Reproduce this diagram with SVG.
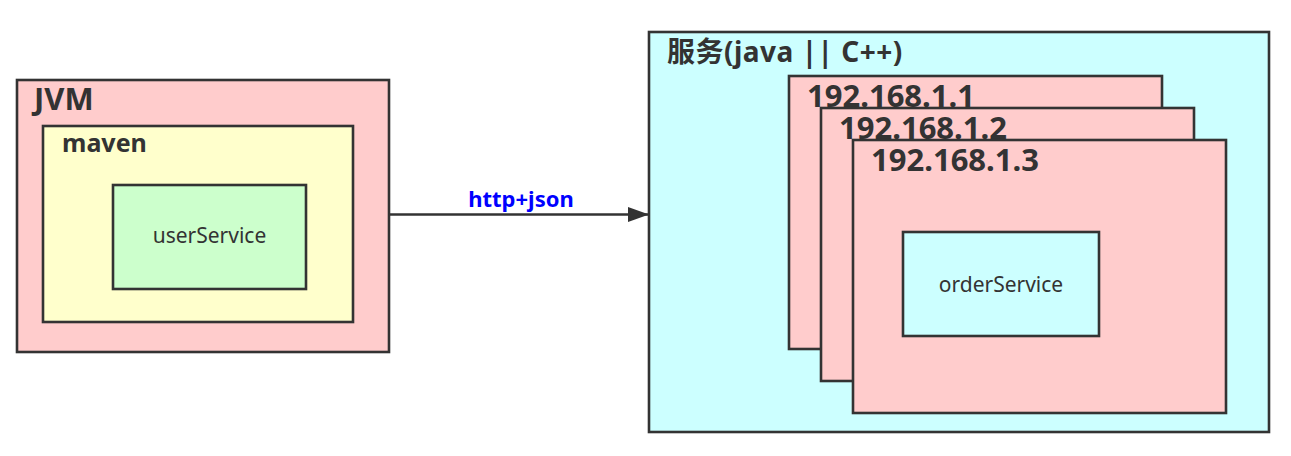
<svg xmlns="http://www.w3.org/2000/svg" width="1291" height="456" viewBox="0 0 1291 456">
<style>
.box{stroke:#333;stroke-width:2.6}
.pink{fill:#FFCCCC}.yellow{fill:#FFFFCC}.green{fill:#CCFFCC}.cyan{fill:#CCFFFF}
text{font-family:"Noto Sans","Noto Sans CJK SC",sans-serif;fill:#333}
.title{font-weight:bold}
.lbl{font-size:21px;text-anchor:middle}
.ip{font-size:31px;font-weight:bold}
</style>
<defs>
<marker id="arr" markerUnits="userSpaceOnUse" markerWidth="22" markerHeight="16" refX="21" refY="7.5" orient="auto">
<path d="M0,0 L21,7.5 L0,15 Z" fill="#333"/>
</marker>
</defs>
<rect width="1291" height="456" fill="#fff"/>
<g id="jvm">
<rect class="box pink" x="17" y="80" width="372" height="272"/>
<text class="title" x="34" y="110" font-size="31">JVM</text>
</g>
<g id="maven">
<rect class="box yellow" x="43" y="126" width="310" height="196"/>
<text class="title" x="62" y="152" font-size="25">maven</text>
</g>
<g id="userService">
<rect class="box green" x="113" y="185" width="193" height="104"/>
<text class="lbl" x="209.5" y="243">userService</text>
</g>
<g id="service">
<rect class="box cyan" x="649" y="32" width="620" height="400"/>
<text class="title" x="667" y="62" font-size="28" letter-spacing="0.5">服务(java || C++)</text>
</g>
<g id="host1">
<rect class="box pink" x="789" y="76" width="373" height="273"/>
<text class="ip" x="807" y="107">192.168.1.1</text>
</g>
<g id="host2">
<rect class="box pink" x="821" y="108" width="373" height="273"/>
<text class="ip" x="839" y="139">192.168.1.2</text>
</g>
<g id="host3">
<rect class="box pink" x="853" y="140" width="373" height="273"/>
<text class="ip" x="871" y="171">192.168.1.3</text>
</g>
<g id="orderService">
<rect class="box cyan" x="903" y="232" width="196" height="104"/>
<text class="lbl" x="1001" y="292">orderService</text>
</g>
<g id="connectors">
<line x1="390" y1="214.5" x2="649" y2="214.5" stroke="#333" stroke-width="2.6" marker-end="url(#arr)"/>
<text x="521" y="207" font-size="22" font-weight="bold" text-anchor="middle" style="fill:#0000FF">http+json</text>
</g>
</svg>
